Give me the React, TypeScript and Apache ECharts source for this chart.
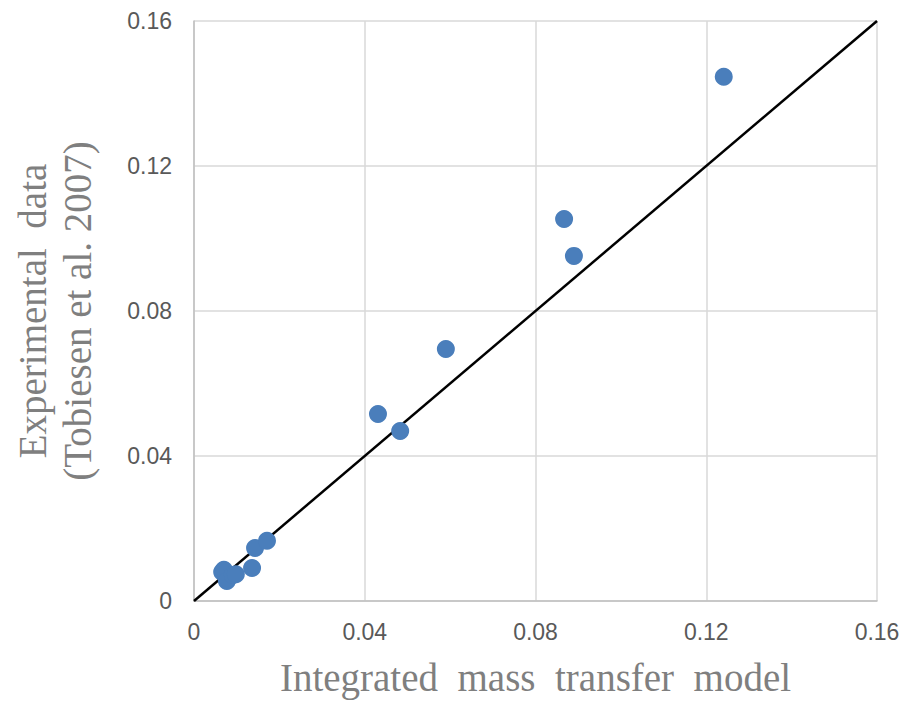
import React, { useEffect, useRef } from "react";
import * as echarts from "echarts";

const modelValues = [0.0066, 0.0070, 0.0077, 0.0091, 0.0098, 0.0136, 0.0143, 0.0171, 0.0431, 0.0483, 0.0590, 0.0867, 0.0890, 0.1241];
const experimentalValues = [0.0080, 0.0086, 0.0055, 0.0072, 0.0074, 0.0091, 0.0146, 0.0166, 0.0516, 0.0469, 0.0695, 0.1054, 0.0952, 0.1446];
const parityLine = [[0, 0], [0.16, 0.16]];
const tickStep = 0.04;

export default function App() {
  const ref = useRef<HTMLDivElement>(null);
  useEffect(() => {
    const chart = echarts.init(ref.current!, null, { renderer: "svg" });
    const pts = modelValues.map((x, i) => [x, experimentalValues[i]]);
    const labelStyle = {
      color: "#595959",
      fontSize: 23,
      fontFamily: "'Liberation Sans', Arial, sans-serif",
      formatter: (v: number) => (v === 0 ? "0" : v.toFixed(2)),
    };
    const axisCommon = {
      type: "value",
      min: 0,
      max: 0.16,
      interval: tickStep,
      axisLine: { show: true, lineStyle: { color: "#bfbfbf", width: 1.5 } },
      axisTick: { show: false },
      splitLine: { show: true, lineStyle: { color: "#d9d9d9", width: 1.5 } },
    };
    chart.setOption({
      animation: false,
      grid: { left: 194, right: 36, top: 21, bottom: 101 },
      xAxis: {
        ...axisCommon,
        name: "Integrated  mass  transfer  model",
        nameLocation: "middle",
        nameGap: 57,
        nameTextStyle: {
          color: "#7f7f7f",
          fontSize: 39,
          fontFamily: "'Liberation Serif', 'Times New Roman', serif",
        },
        axisLabel: { ...labelStyle, margin: 19 },
      },
      yAxis: {
        ...axisCommon,
        name: "Experimental  data\n(Tobiesen et al. 2007)",
        nameLocation: "middle",
        nameGap: 94,
        nameRotate: 90,
        nameTextStyle: {
          color: "#7f7f7f",
          fontSize: 39,
          lineHeight: 45,
          fontFamily: "'Liberation Serif', 'Times New Roman', serif",
        },
        axisLabel: { ...labelStyle, margin: 22 },
      },
      series: [
        {
          type: "line",
          data: parityLine,
          symbol: "none",
          lineStyle: { color: "#000000", width: 2.5 },
          z: 2,
        },
        {
          type: "scatter",
          data: pts,
          symbolSize: 18,
          itemStyle: { color: "#4a7ebb", opacity: 1 },
          z: 3,
        },
      ],
    });
    return () => chart.dispose();
  }, []);
  return <div ref={ref} style={{ width: 913, height: 702, position: "absolute", left: 0, top: 0 }} />;
}
